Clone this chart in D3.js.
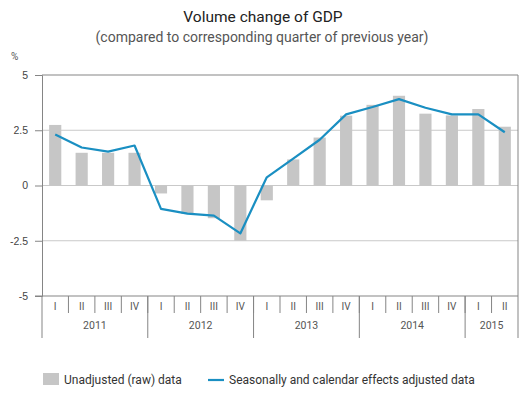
<!DOCTYPE html>
<html>
<head>
<meta charset="utf-8">
<script src="https://cdn.jsdelivr.net/npm/d3@7"></script>
<style>
  body { margin: 0; background: #fff; }
  svg { display: block; font-family: Roboto, "Noto Sans", sans-serif; }
</style>
</head>
<body>
<div id="chart"></div>
<script>
const years = ["2011", "2012", "2013", "2014", "2015"]
const quarters = ["I", "II", "III", "IV", "I", "II", "III", "IV", "I", "II", "III", "IV", "I", "II", "III", "IV", "I", "II"]
const quarterYears = ["2011", "2011", "2011", "2011", "2012", "2012", "2012", "2012", "2013", "2013", "2013", "2013", "2014", "2014", "2014", "2014", "2015", "2015"]
const rawData = [2.74, 1.48, 1.48, 1.48, -0.36, -1.29, -1.48, -2.5, -0.67, 1.18, 2.17, 3.16, 3.65, 4.06, 3.25, 3.17, 3.46, 2.66]
const adjData = [2.31, 1.72, 1.53, 1.81, -1.06, -1.27, -1.36, -2.17, 0.37, 1.22, 2.07, 3.22, 3.55, 3.91, 3.52, 3.22, 3.22, 2.41]
const yTicks = [-5, -2.5, 0, 2.5, 5]
const legendLabels = ["Unadjusted (raw) data", "Seasonally and calendar effects adjusted data"]

const width = 527
const height = 398
const margin = ({ top: 75, right: 9, bottom: 102, left: 42 })

const svg = d3.select("#chart").append("svg")
  .attr("width", width)
  .attr("height", height)

const idx = d3.range(quarters.length)

const x = d3.scaleBand()
  .domain(idx)
  .range([margin.left, width - margin.right])
  .padding(0)

const y = d3.scaleLinear()
  .domain([-5, 5])
  .range([height - margin.bottom, margin.top])

const axisColor = "#858585"
const gridColor = "#c9c9c9"

// titles
svg.append("text")
  .attr("x", 263)
  .attr("y", 22)
  .attr("text-anchor", "middle")
  .attr("font-size", 15.5)
  .attr("fill", "#222")
  .text("Volume change of GDP")

svg.append("text")
  .attr("x", 262)
  .attr("y", 42)
  .attr("text-anchor", "middle")
  .attr("font-size", 14)
  .attr("fill", "#555")
  .text("(compared to corresponding quarter of previous year)")

svg.append("text")
  .attr("x", 11)
  .attr("y", 60)
  .attr("font-size", 10)
  .attr("fill", "#555")
  .text("%")

// grid
svg.append("g")
  .selectAll("line")
  .data(yTicks.filter(d => d > -5 && d < 5))
  .join("line")
  .attr("x1", margin.left)
  .attr("x2", width - margin.right)
  .attr("y1", d => y(d))
  .attr("y2", d => y(d))
  .attr("stroke", gridColor)
  .attr("stroke-width", 1)

// bars
const barW = x.bandwidth() * 0.46
svg.append("g")
  .selectAll("rect")
  .data(rawData)
  .join("rect")
  .attr("x", (d, i) => x(i) + x.bandwidth() / 2 - barW / 2)
  .attr("y", d => y(Math.max(0, d)))
  .attr("width", barW)
  .attr("height", d => Math.abs(y(d) - y(0)))
  .attr("fill", "#c6c6c6")

// line
const line = d3.line()
  .x((d, i) => x(i) + x.bandwidth() / 2)
  .y(d => y(d))

svg.append("path")
  .datum(adjData)
  .attr("fill", "none")
  .attr("stroke", "#1a8fc2")
  .attr("stroke-width", 2.2)
  .attr("stroke-linejoin", "round")
  .attr("d", line)

// frame top/right
svg.append("path")
  .attr("d", `M${margin.left},${y(5)}H${width - margin.right}V${y(-5)}`)
  .attr("fill", "none")
  .attr("stroke", axisColor)

// y axis
svg.append("g")
  .attr("transform", `translate(${margin.left},0)`)
  .call(d3.axisLeft(y).tickValues(yTicks).tickSize(7).tickPadding(7).tickFormat(d => String(d)))
  .call(g => g.select(".domain").attr("stroke", axisColor))
  .call(g => g.selectAll(".tick line").attr("stroke", axisColor))
  .call(g => g.selectAll(".tick text").attr("fill", "#444").attr("font-size", 10.5).attr("font-family", null))

// x axis: quarters
const xg = svg.append("g")
  .attr("transform", `translate(0,${y(-5)})`)

xg.append("line")
  .attr("x1", margin.left - 7)
  .attr("x2", width - margin.right)
  .attr("stroke", axisColor)

xg.selectAll(".qsep")
  .data(idx.slice(1))
  .join("line")
  .attr("x1", i => x(i))
  .attr("x2", i => x(i))
  .attr("y1", 0)
  .attr("y2", 17)
  .attr("stroke", axisColor)

xg.selectAll(".qlab")
  .data(idx)
  .join("text")
  .attr("x", i => x(i) + x.bandwidth() / 2)
  .attr("y", 14)
  .attr("text-anchor", "middle")
  .attr("font-size", 10)
  .attr("fill", "#555")
  .text(i => quarters[i])

// years
const yearStart = years.map(yr => quarterYears.indexOf(yr))
const yearEnd = years.map(yr => quarterYears.lastIndexOf(yr))

xg.selectAll(".ysep")
  .data(yearStart.concat([quarters.length]))
  .join("line")
  .attr("x1", i => i < quarters.length ? x(i) : x.range()[1])
  .attr("x2", i => i < quarters.length ? x(i) : x.range()[1])
  .attr("y1", 0)
  .attr("y2", 42)
  .attr("stroke", axisColor)

xg.selectAll(".ylab")
  .data(years)
  .join("text")
  .attr("x", (d, k) => (x(yearStart[k]) + x(yearEnd[k]) + x.bandwidth()) / 2)
  .attr("y", 33)
  .attr("text-anchor", "middle")
  .attr("font-size", 10.5)
  .attr("fill", "#555")
  .text(d => d)

// legend
const lg = svg.append("g")
lg.append("rect")
  .attr("x", 43)
  .attr("y", 373)
  .attr("width", 16)
  .attr("height", 12)
  .attr("fill", "#c6c6c6")
lg.append("text")
  .attr("x", 64)
  .attr("y", 384)
  .attr("font-size", 12)
  .attr("fill", "#333")
  .text(legendLabels[0])
lg.append("line")
  .attr("x1", 208)
  .attr("x2", 224)
  .attr("y1", 380)
  .attr("y2", 380)
  .attr("stroke", "#1a8fc2")
  .attr("stroke-width", 2.2)
lg.append("text")
  .attr("x", 229)
  .attr("y", 384)
  .attr("font-size", 12)
  .attr("fill", "#333")
  .text(legendLabels[1])
</script>
</body>
</html>
